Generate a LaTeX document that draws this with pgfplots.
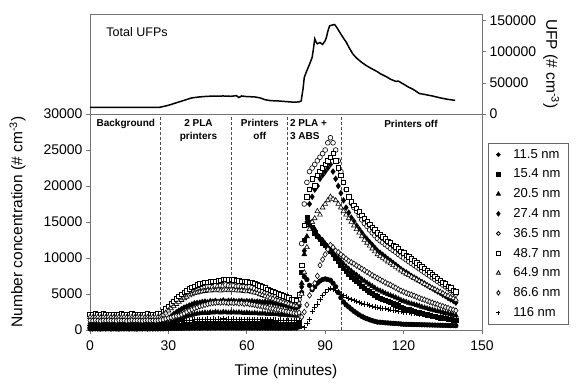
\documentclass[border=0pt]{standalone}
\usepackage{pgfplots}
\pgfplotsset{compat=1.18}
\usepackage{pgfplotstable}
\usepackage{fontspec}
\setmainfont{Liberation Sans}

\pgfplotstableread{
t a b c d e f g h k
0 160 310 500 880 2050 2200 1780 1320 640
1 140 290 530 920 1980 2120 1730 1280 700
2 170 320 510 900 2060 2230 1760 1350 620
3 150 300 540 870 1990 2150 1800 1300 680
4 130 280 490 930 2020 2180 1720 1260 650
5 160 330 520 910 2080 2250 1770 1330 600
6 150 300 500 890 2000 2130 1750 1290 710
7 170 310 530 920 2040 2200 1790 1340 660
8 140 290 510 880 1970 2160 1740 1300 630
9 160 320 550 900 2030 2210 1760 1310 690
10 150 300 500 940 2010 2140 1730 1280 650
11 130 280 520 900 2060 2190 1780 1340 620
12 160 310 540 870 1990 2230 1750 1300 700
13 150 300 510 910 2020 2170 1790 1320 660
14 170 330 490 890 2050 2120 1740 1270 640
15 140 290 530 930 1980 2200 1770 1310 680
16 160 310 510 900 2030 2250 1760 1350 620
17 150 300 520 880 2000 2150 1720 1290 710
18 130 320 500 920 2070 2190 1800 1330 650
19 160 290 540 900 2010 2130 1750 1300 670
20 150 310 510 870 1990 2210 1780 1280 630
21 170 300 530 910 2040 2170 1740 1320 690
22 140 280 500 890 2020 2240 1770 1340 660
23 160 320 520 930 1970 2160 1730 1300 640
24 150 300 540 900 2050 2200 1790 1310 700
25 160 310 510 880 2010 2140 1760 1290 650
26 150 300 530 920 2040 2230 1780 1330 680
27 170 320 560 960 2150 2300 1850 1380 720
28 170 350 600 1100 2500 2600 2100 1450 750
29 190 400 750 1350 2800 2950 2400 1550 820
30 200 450 900 1600 3100 3300 2700 1650 900
31 210 500 1050 1900 3450 3650 3000 1750 980
32 230 550 1200 2200 3800 4000 3300 1850 1050
33 240 600 1350 2450 4100 4350 3600 1950 1130
34 250 650 1500 2700 4400 4700 3900 2000 1200
35 240 700 1650 2900 4650 4950 4150 2150 1250
36 260 750 1800 3100 4900 5200 4400 2300 1300
37 270 780 1900 3250 5100 5450 4600 2500 1330
38 250 800 2000 3400 5300 5700 4800 2700 1350
39 280 830 2100 3550 5500 5900 4950 2850 1400
40 270 850 2200 3700 5700 6100 5100 3000 1450
41 290 880 2250 3750 5800 6250 5200 3150 1420
42 260 860 2300 3800 5900 6400 5300 3300 1480
43 280 900 2350 3900 5950 6500 5350 3400 1500
44 300 880 2400 3950 6050 6600 5400 3500 1450
45 270 920 2350 3850 6000 6650 5500 3600 1520
46 290 900 2450 4000 6100 6700 5450 3700 1480
47 300 940 2400 3950 5950 6750 5550 3750 1550
48 280 910 2500 4050 6150 6800 5500 3800 1500
49 310 950 2450 3900 6050 6850 5600 3850 1530
50 290 920 2400 4000 6200 6900 5450 3800 1470
51 300 900 2500 4100 6100 7000 5550 3850 1560
52 280 940 2450 3950 6250 7050 5600 3800 1500
53 300 910 2400 4050 6150 6950 5500 3750 1540
54 290 930 2450 4000 6100 7000 5600 3800 1490
55 300 920 2450 4050 6150 6950 5550 3750 1520
56 280 900 2400 3950 6050 6900 5500 3800 1480
57 290 930 2450 4000 6100 6850 5450 3700 1500
58 270 890 2400 4050 6000 6800 5500 3750 1460
59 300 910 2350 3950 6050 6750 5400 3650 1490
60 280 880 2400 4000 5950 6700 5350 3700 1450
61 290 900 2350 3950 6000 6650 5400 3600 1480
62 270 870 2300 4000 5900 6600 5300 3550 1440
63 290 890 2350 3900 5750 6450 5200 3500 1460
64 280 860 2300 3950 5600 6300 5100 3400 1420
65 270 880 2250 3900 5450 6150 4950 3350 1450
66 290 850 2300 3850 5300 6000 4850 3250 1410
67 280 870 2250 3900 5150 5850 4700 3200 1430
68 260 840 2200 3800 5000 5650 4600 3100 1390
69 280 860 2250 3850 4850 5500 4450 3000 1420
70 270 830 2200 3750 4700 5350 4350 2950 1380
71 280 850 2150 3700 4600 5200 4200 2850 1400
72 260 820 2200 3600 4450 5050 4100 2800 1360
73 270 800 2100 3550 4350 4900 3950 2700 1380
74 280 810 2150 3450 4250 4750 3850 2650 1340
75 260 780 2050 3400 4100 4600 3750 2550 1350
76 270 790 2100 3300 4000 4450 3650 2500 1310
77 260 760 2000 3200 3900 4300 3550 2400 1320
78 280 770 2050 3100 3850 4200 3400 2350 1280
79 270 750 1950 3050 3750 4150 3350 2300 1300
80 450 1100 2300 3300 4200 4900 3700 2400 1350
81 5200 8000 6500 6000 12000 9000 5000 1800 500
82 7400 12500 10500 11000 17500 14500 8000 2500 400
83 7000 15600 13000 15000 20500 18500 11500 3500 900
84 6200 15000 14500 17500 22000 19500 14000 4800 1500
85 5600 14200 15000 18500 22500 21000 15000 5800 2600
86 6000 13500 14000 19500 23000 20000 15500 6500 3200
87 6500 13000 13200 20000 23500 21500 16500 7500 3600
88 6800 12600 12800 21000 24000 22000 16000 9000 4200
89 7000 12000 12500 21500 24500 22500 17000 9800 4800
90 7100 11800 12000 22000 25000 23000 17500 10500 5200
91 7000 11500 11500 22500 26000 23500 18000 11200 5600
92 6900 11000 11000 23000 26700 24000 18500 11800 5800
93 6500 10500 10700 22000 26000 24500 18200 11500 5700
94 6000 10000 10300 21000 25000 23500 18000 11000 5500
95 5200 9500 10000 20000 23500 22500 17500 10800 5300
96 4500 9000 9600 19000 22000 21500 17000 10500 5000
97 3900 8600 9200 18000 20500 20500 16500 10200 4800
98 3500 8200 8800 17000 19500 19500 16000 9900 4600
99 3200 7800 8500 16300 18500 18500 15500 9600 4400
100 2900 7400 8200 15600 17600 17800 15000 9400 4200
101 2600 7100 7900 15100 17000 17300 14500 9200 4100
102 2350 6750 7650 14500 16500 16900 14000 8950 3950
103 2100 6450 7350 14000 15900 16400 13500 8750 3850
104 1900 6100 7050 13500 15300 15950 13000 8500 3700
105 1700 5800 6800 13000 14800 15500 12500 8300 3600
106 1560 5550 6550 12600 14400 15100 12100 8050 3500
107 1420 5300 6300 12200 13900 14700 11700 7850 3400
108 1300 5050 6100 11800 13500 14300 11300 7600 3300
109 1200 4850 5850 11400 13100 13900 10900 7400 3200
110 1100 4600 5600 11000 12700 13500 10500 7200 3100
111 1080 4450 5450 10700 12400 13200 10250 7000 3050
112 1050 4300 5300 10450 12150 12950 10000 6800 3000
113 1000 4150 5100 10150 11850 12650 9750 6600 2950
114 980 3950 4950 9850 11600 12350 9500 6400 2900
115 950 3800 4800 9600 11300 12100 9250 6250 2800
116 920 3650 4650 9300 11050 11800 9000 6050 2750
117 900 3500 4500 9050 10800 11550 8750 5850 2700
118 870 3350 4350 8750 10500 11250 8500 5650 2650
119 830 3150 4150 8450 10250 10950 8250 5450 2550
120 800 3000 4000 8200 10000 10700 8000 5300 2500
121 790 2900 3900 8000 9750 10400 7800 5150 2450
122 780 2800 3750 7750 9500 10150 7600 5000 2400
123 770 2700 3650 7500 9250 9900 7400 4900 2350
124 760 2600 3550 7300 9000 9600 7200 4750 2300
125 750 2500 3450 7100 8750 9350 7000 4600 2250
126 740 2400 3350 6850 8500 9050 6800 4450 2200
127 730 2300 3200 6650 8250 8800 6600 4300 2150
128 720 2200 3100 6450 8000 8550 6400 4200 2100
129 710 2100 3000 6200 7750 8250 6200 4050 2050
130 700 2000 2900 6000 7500 8000 6000 3900 2000
131 690 1930 2800 5800 7250 7750 5800 3800 1960
132 680 1850 2700 5550 7000 7450 5650 3650 1920
133 670 1780 2620 5350 6750 7200 5450 3550 1880
134 660 1700 2530 5150 6500 6900 5300 3400 1840
135 650 1640 2450 4900 6250 6650 5100 3300 1800
136 640 1570 2350 4700 6000 6400 4900 3150 1760
137 630 1500 2260 4450 5750 6100 4750 3050 1720
138 620 1440 2180 4250 5500 5850 4550 2900 1680
139 610 1370 2090 4050 5250 5550 4400 2800 1640
140 600 1300 2000 3800 5000 5300 4200 2700 1600
}\sizedata

\pgfplotstableread{
t n
0 10700
3 10500
6 10800
9 10600
12 10700
15 10500
18 10700
21 10600
24 10500
26.5 10700
28 12000
30 14000
33 18000
36 22000
39 26000
42 27500
45 28500
48 28800
51 29000
54 28500
56 29500
57 26500
58 29000
60 28000
63 27500
65 26000
67 23000
69 21500
72 21000
75 20000
78 19000
80 19500
80.8 21000
81.5 40000
82 59000
83 70000
84 80000
85 91000
85.5 105000
86 121000
86.5 116000
87 113000
88 115000
89 112000
90 118000
90.5 124000
91 133000
91.7 142000
92.5 143000
93.6 144000
94.5 139000
95.5 132000
97 122000
98 116000
99 108000
100.5 97000
102 90000
104 83000
105.7 78000
108 72500
110 68000
111 65000
113.4 60000
115 56000
117 52500
118 53000
120 48000
122 43000
123.5 40000
125 36000
126 33000
128 31500
131 29000
134 26000
137 23500
139.7 22000
}\totaldata

\begin{document}
\begin{tikzpicture}
\pgfplotsset{
  ax/.style={
    scale only axis, width=392pt,
    xmin=0, xmax=150,
    axis line style={black!55, line width=0.8pt},
    tick style={black!55, line width=0.8pt},
    major tick length=4pt,
    tick align=outside,
    scaled ticks=false,
    /pgf/number format/fixed,
    /pgf/number format/precision=0,
    /pgf/number format/assume math mode=true,
    /pgf/number format/set thousands separator={},
    ticklabel style={font=\fontsize{14}{16}\selectfont},
    label style={font=\fontsize{15.5}{18}\selectfont},
  },
  mk/.style={only marks, mark size=#1, mark options={line width=0.6pt, draw=black},
    legend image code/.code={\path[draw=none,fill=none] (0pt,-2pt) rectangle (20pt,2pt); \draw[mark repeat=2,mark phase=2,mark options={scale=0.8}] plot coordinates {(0pt,0pt)(7pt,0pt)(20pt,0pt)};}},
}
\begin{axis}[ax,
  at={(0pt,0pt)}, anchor=south west, height=216pt,
  ymin=0, ymax=30000,
  xtick={0,30,...,150}, ytick={0,5000,...,30000},
  tick pos=left,
  xticklabel style={yshift=-3pt},
  xlabel={Time (minutes)},
  xlabel style={yshift=-7pt},
  ylabel={Number concentration (\# cm\textsuperscript{-3})},
  ylabel style={yshift=11pt},
  legend cell align=left,
  legend style={at={(axis description cs:1.0153,0.8657)}, anchor=north west,
    draw=black!60, line width=0.8pt, font=\fontsize{13}{15}\selectfont,
    inner xsep=3pt, inner ysep=4pt, row sep=5.2pt},
]
\addplot[mk=2.3pt, mark=*, fill=black] table[x=t,y=a]{\sizedata};
\addlegendentry{\makebox[50pt][l]{11.5 nm}}
\addplot[mk=2.1pt, mark=square*, fill=black] table[x=t,y=b]{\sizedata};
\addlegendentry{15.4 nm}
\addplot[mk=2.8pt, mark=triangle*, fill=black] table[x=t,y=c]{\sizedata};
\addlegendentry{20.5 nm}
\addplot[mk=2.8pt, mark=diamond*, fill=black] table[x=t,y=d]{\sizedata};
\addlegendentry{27.4 nm}
\addplot[mk=2.4pt, mark=*, fill=white] table[x=t,y=e]{\sizedata};
\addlegendentry{36.5 nm}
\addplot[mk=2.2pt, mark=square*, fill=white] table[x=t,y=f]{\sizedata};
\addlegendentry{48.7 nm}
\addplot[mk=2.8pt, mark=triangle*, fill=white] table[x=t,y=g]{\sizedata};
\addlegendentry{64.9 nm}
\addplot[mk=2.8pt, mark=diamond*, fill=white] table[x=t,y=h]{\sizedata};
\addlegendentry{86.6 nm}
\addplot[mk=2.6pt, mark=+] table[x=t,y=k]{\sizedata};
\addlegendentry{116 nm}
\pgfplotsinvokeforeach{27,54,75.6,96.3}{
  \addplot[forget plot, black!70, line width=0.8pt, dash pattern=on 3pt off 2pt] coordinates {(#1,0) (#1,30000)};
}
\tikzset{rl/.style={font=\fontsize{10}{12}\selectfont\bfseries, align=center, inner sep=0pt}}
\node[rl] at (axis cs:13.7,28570) {Background};
\node[rl, anchor=north] at (axis cs:41.5,29300) {2 PLA\\[1pt]printers};
\node[rl, anchor=north] at (axis cs:65,29300) {Printers\\[1pt]off};
\node[rl, anchor=north west, align=left] at (axis cs:76.5,29300) {2 PLA +\\[1pt]3 ABS};
\node[rl] at (axis cs:122.8,28570) {Printers off};
\end{axis}

\begin{axis}[ax,
  at={(0pt,216pt)}, anchor=south west, height=100pt,
  ymin=0, ymax=161000,
  xtick=\empty, ytick={0,50000,100000,150000},
  ytick pos=right, yticklabel pos=right,
  ylabel={UFP (\# cm\textsuperscript{-3})},
  ylabel style={rotate=180},
]
\addplot[black, line width=1.5pt] table[x=t,y=n]{\totaldata};
\node[font=\fontsize{12.5}{14}\selectfont] at (axis cs:18,132000) {Total UFPs};
\end{axis}
\pgfresetboundingbox
\path[use as bounding box] (-90pt,-57pt) rectangle (490pt,330pt);
\end{tikzpicture}
\end{document}
